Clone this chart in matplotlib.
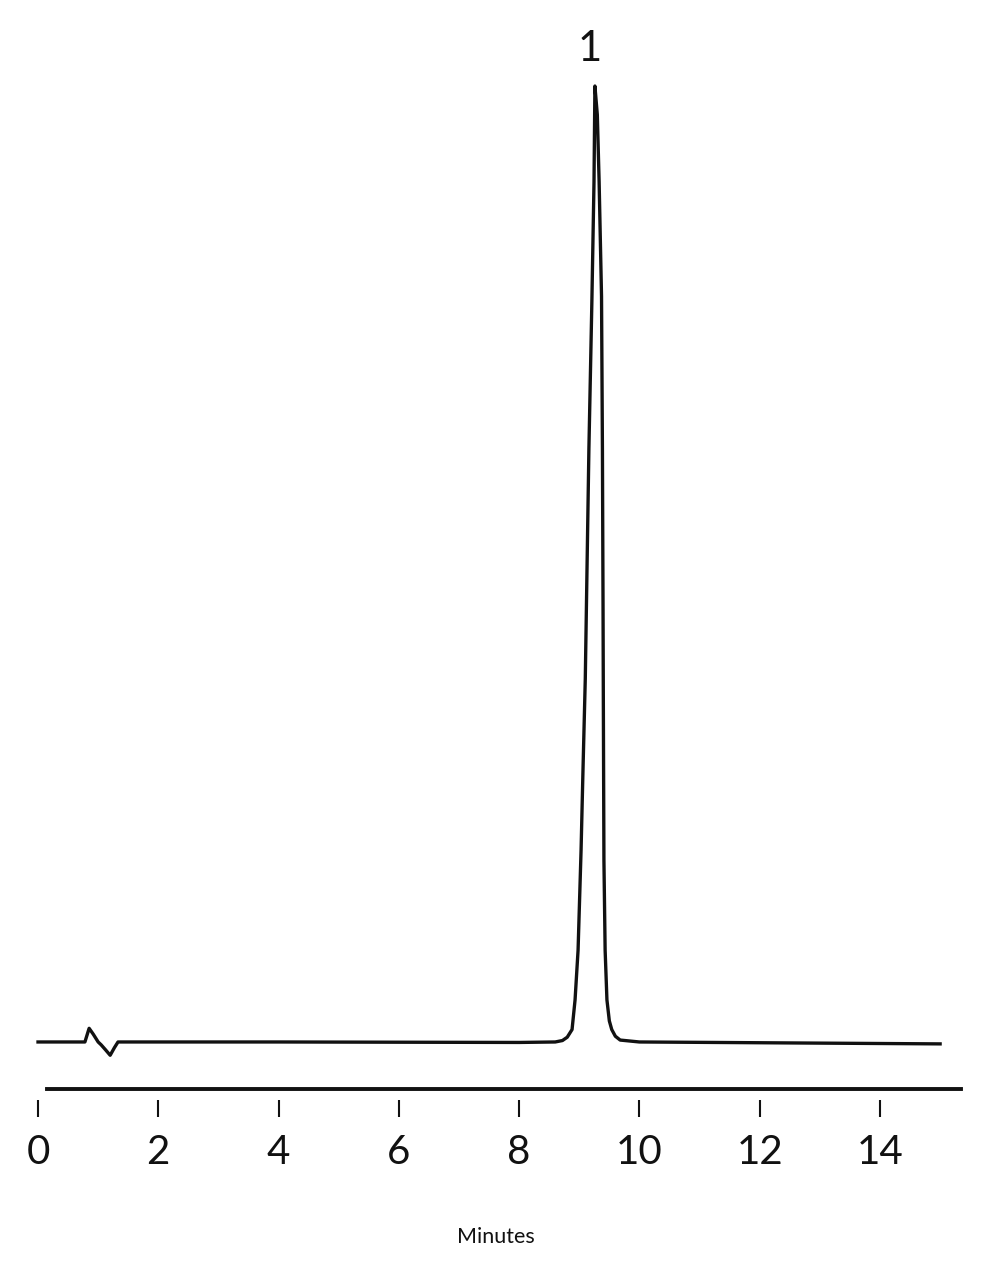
"""Chromatogram: single peak (1) at ~9.3 min, flat baseline with a small injection blip."""
import matplotlib
matplotlib.use('Agg')
import matplotlib.pyplot as plt

# trace (minutes, relative response; apex = 100)
time_min = [0.00, 0.78, 0.85, 0.92, 1.00, 1.05, 1.12, 1.20, 1.27, 1.33,
            4.00, 8.00, 8.60, 8.72, 8.80, 8.88, 8.93, 8.98, 9.03, 9.06,
            9.10, 9.13, 9.16, 9.21, 9.245, 9.26, 9.30, 9.33, 9.37, 9.385,
            9.395, 9.40, 9.41, 9.43, 9.46, 9.50, 9.54, 9.60, 9.68, 10.00,
            15.00]
signal = [0.0, 0.0, 1.43, 0.8, 0.0, -0.3, -0.8, -1.39, -0.6, 0.0,
          0.0, -0.05, 0.0, 0.15, 0.5, 1.3, 4.4, 9.6, 20.1, 28.0,
          38.0, 50.0, 62.0, 77.6, 90.0, 100.0, 97.0, 90.0, 78.0, 62.0,
          46.0, 36.0, 19.0, 9.6, 4.4, 2.2, 1.3, 0.6, 0.2, 0.0,
          -0.2]

ticks = [0, 2, 4, 6, 8, 10, 12, 14]
peak_labels = ['1']
peak_times = [9.25]
peak_heights = [100.0]

FONT = ['Lato', 'DejaVu Sans']
INK = '#111111'

fig = plt.figure(figsize=(9.86, 12.8), dpi=100)
ax = fig.add_axes([0, 180 / 1280, 1, 1100 / 1280])
ax.set_xlim(-0.632, 15.763)
ax.set_ylim(-6.07, 109.0)

ax.plot(time_min, signal, color=INK, linewidth=2.4, solid_joinstyle='round')

# separate time-axis rule above the tick marks
ax.axhline(-4.9, xmin=0.048, xmax=0.975, color=INK, linewidth=2.8)

for lab, t, h in zip(peak_labels, peak_times, peak_heights):
    ax.annotate(lab, (t, h), textcoords='offset points', xytext=(-3, 13),
                ha='center', va='bottom', fontsize=30, color=INK,
                family=FONT)

for s in ax.spines.values():
    s.set_visible(False)
ax.set_yticks([])
ax.set_xticks(ticks)
ax.set_xticklabels([str(t) for t in ticks], family=FONT)
ax.tick_params(axis='x', direction='out', length=12.5, width=1.5, color=INK,
               pad=12, labelsize=29, labelcolor=INK)

fig.text(496 / 986, 1 - 1237 / 1280, 'Minutes', ha='center', va='center',
         fontsize=15.5, color=INK, family=FONT)

fig.savefig('out.png', dpi=100, facecolor='white')
